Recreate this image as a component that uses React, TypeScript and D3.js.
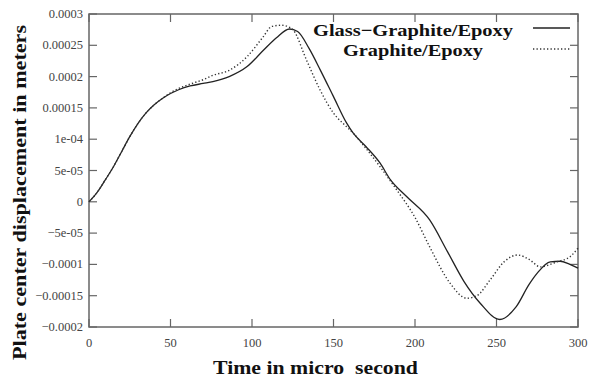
import React from "react";
import * as d3 from "d3";

const xTicks = [0, 50, 100, 150, 200, 250, 300];
const yTicks = [0.0003, 0.00025, 0.0002, 0.00015, 0.0001, 0.00005, 0, -0.00005, -0.0001, -0.00015, -0.0002];
const yTickLabels = ["0.0003", "0.00025", "0.0002", "0.00015", "1e-04", "5e-05", "0", "−5e-05", "−0.0001", "−0.00015", "−0.0002"];

const solidT = [0, 5, 10, 15, 20, 25, 30, 35, 40, 45, 50, 55, 62, 70, 76, 86, 97, 107, 115, 123, 128, 135, 142, 150, 158, 162, 170, 178.5, 185, 195, 209, 220, 230, 240, 252, 262, 270, 275, 283, 289, 295, 300];
const solidV = [0, 1.5e-5, 3.5e-5, 5.6e-5, 8e-5, 1.04e-4, 1.25e-4, 1.42e-4, 1.55e-4, 1.65e-4, 1.73e-4, 1.79e-4, 1.85e-4, 1.89e-4, 1.92e-4, 2.0e-4, 2.16e-4, 2.42e-4, 2.62e-4, 2.76e-4, 2.72e-4, 2.45e-4, 2.1e-4, 1.68e-4, 1.26e-4, 1.1e-4, 8.8e-5, 6.2e-5, 3.5e-5, 8e-6, -2.9e-5, -8e-5, -1.27e-4, -1.62e-4, -1.88e-4, -1.68e-4, -1.32e-4, -1.14e-4, -9.6e-5, -9.5e-5, -1.0e-4, -1.06e-4];

const dotT = [0, 5, 10, 15, 20, 25, 30, 35, 40, 45, 50, 55, 62, 70, 76, 86, 97, 107, 112, 118, 122, 125.4, 133.5, 141.7, 149.9, 158, 162, 170, 178, 188.8, 200, 209, 221.5, 231.7, 238, 246, 255, 263, 270, 277, 283, 287, 295, 300];
const dotV = [0, 1.5e-5, 3.5e-5, 5.6e-5, 8e-5, 1.04e-4, 1.25e-4, 1.42e-4, 1.55e-4, 1.65e-4, 1.74e-4, 1.81e-4, 1.88e-4, 1.95e-4, 2.02e-4, 2.1e-4, 2.32e-4, 2.64e-4, 2.8e-4, 2.82e-4, 2.8e-4, 2.74e-4, 2.26e-4, 1.79e-4, 1.42e-4, 1.2e-4, 1.1e-4, 8.5e-5, 5.8e-5, 1.9e-5, -2.5e-5, -7.2e-5, -1.3e-4, -1.54e-4, -1.5e-4, -1.25e-4, -9.5e-5, -8.5e-5, -9.2e-5, -1.04e-4, -1.0e-4, -9.6e-5, -8.8e-5, -7.4e-5];

const legendLabels = ["Glass−Graphite/Epoxy", "Graphite/Epoxy"];

const SERIF = "'Liberation Serif', 'Times New Roman', Times, serif";

export default function App() {
  const W = 605, H = 379;
  const L = 89, R = 578, T = 14, B = 327;
  const x = d3.scaleLinear().domain([0, 300]).range([L, R]);
  const y = d3.scaleLinear().domain([-0.0002, 0.0003]).range([B, T]);
  const line = d3.line<[number, number]>().x(d => x(d[0])).y(d => y(d[1])).curve(d3.curveMonotoneX);
  const solid = line(solidT.map((t, i) => [t, solidV[i]]))!;
  const dotted = line(dotT.map((t, i) => [t, dotV[i]]))!;
  const tl = 8;
  const axisColor = "#666";
  return (
    <svg width={W} height={H} style={{ position: "absolute", left: 0, top: 0, background: "#fff" }}>
      <rect x={L} y={T} width={R - L} height={B - T} fill="none" stroke={axisColor} strokeWidth={1.5} />
      {xTicks.map(t => (
        <g key={"x" + t}>
          <line x1={x(t)} x2={x(t)} y1={B} y2={B - tl} stroke={axisColor} strokeWidth={1.2} />
          <line x1={x(t)} x2={x(t)} y1={T} y2={T + tl} stroke={axisColor} strokeWidth={1.2} />
          <text x={x(t)} y={347} textAnchor="middle" style={{ fontFamily: SERIF }} fontSize={12.5} fill="#444">{t}</text>
        </g>
      ))}
      {yTicks.map((v, i) => (
        <g key={"y" + i}>
          <line x1={L} x2={L + tl} y1={y(v)} y2={y(v)} stroke={axisColor} strokeWidth={1.2} />
          <line x1={R} x2={R - tl} y1={y(v)} y2={y(v)} stroke={axisColor} strokeWidth={1.2} />
          <text x={83} y={y(v) + 4} textAnchor="end" style={{ fontFamily: SERIF }} fontSize={12.5} fill="#444">{yTickLabels[i]}</text>
        </g>
      ))}
      <path d={solid} fill="none" stroke="#222" strokeWidth={1.3} />
      <path d={dotted} fill="none" stroke="#333" strokeWidth={1.4} strokeDasharray="1.3 2.2" />
      <text x={313} y={36} textLength={200} lengthAdjust="spacingAndGlyphs" style={{ fontFamily: SERIF }} fontWeight="bold" fontSize={17} fill="#111">{legendLabels[0]}</text>
      <line x1={533} x2={570} y1={28} y2={28} stroke="#222" strokeWidth={1.3} />
      <text x={343} y={56} textLength={140} lengthAdjust="spacingAndGlyphs" style={{ fontFamily: SERIF }} fontWeight="bold" fontSize={17} fill="#111">{legendLabels[1]}</text>
      <line x1={533} x2={570} y1={49} y2={49} stroke="#333" strokeWidth={1.4} strokeDasharray="1.3 2.2" />
      <text x={213} y={374} textLength={205} lengthAdjust="spacingAndGlyphs" style={{ fontFamily: SERIF, whiteSpace: "pre" }} fontWeight="bold" fontSize={19} fill="#111">Time in micro  second</text>
      <text transform={`translate(26,360) rotate(-90)`} textLength={335} lengthAdjust="spacingAndGlyphs" style={{ fontFamily: SERIF }} fontWeight="bold" fontSize={18.5} fill="#111">Plate center displacement in meters</text>
    </svg>
  );
}
